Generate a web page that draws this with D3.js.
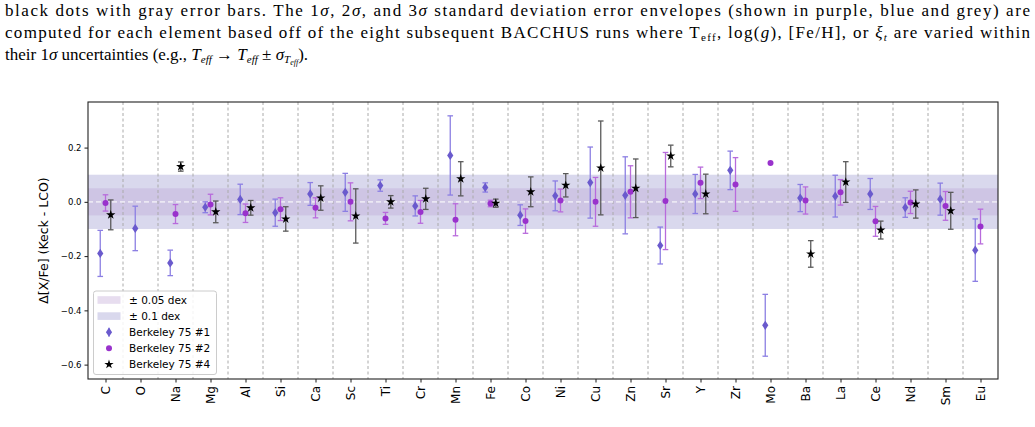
<!DOCTYPE html>
<html>
<head>
<meta charset="utf-8">
<script src="https://cdn.jsdelivr.net/npm/d3@7"></script>
<style>
  body { margin: 0; background: #fff; }
  svg { display: block; }
</style>
</head>
<body>
<svg id="chart" width="1035" height="427"></svg>
<script>
// element order along the x axis
var elements = ["C", "O", "Na", "Mg", "Al", "Si", "Ca", "Sc", "Ti", "Cr", "Mn", "Fe", "Co",
                "Ni", "Cu", "Zn", "Sr", "Y", "Zr", "Mo", "Ba", "La", "Ce", "Nd", "Sm", "Eu"];

// Berkeley 75 #1 (diamonds)
var star1 = [-0.190, -0.098, -0.225, -0.020, 0.009, -0.040, 0.029, 0.035, 0.060, -0.015, 0.171, 0.053, -0.049,
             0.022, 0.071, 0.024, -0.161, 0.029, 0.116, -0.455, 0.014, 0.021, 0.029, -0.021, 0.010, -0.178];
var star1Err = [0.085, 0.082, 0.047, 0.020, 0.056, 0.050, 0.042, 0.070, 0.021, 0.037, 0.146, 0.017, 0.038,
                0.055, 0.131, 0.142, 0.068, 0.072, 0.071, 0.114, 0.050, 0.077, 0.057, 0.036, 0.059, 0.115];

// Berkeley 75 #2 (circles)
var star2 = [-0.004, null, -0.045, -0.010, -0.042, -0.027, -0.022, 0.000, -0.061, -0.037, -0.066, -0.006, -0.071,
             0.005, 0.000, 0.037, 0.003, 0.070, 0.064, 0.143, 0.005, 0.035, -0.072, -0.002, -0.015, -0.091];
var star2Err = [0.030, null, 0.035, 0.038, 0.034, 0.042, 0.037, 0.070, 0.022, 0.042, 0.059, 0.012, 0.045,
                0.042, 0.090, 0.096, 0.179, 0.058, 0.099, null, 0.050, 0.047, 0.055, 0.041, 0.053, 0.064];

// Berkeley 75 #4 (stars)
var star4 = [-0.048, null, 0.130, -0.037, -0.022, -0.063, 0.014, -0.052, 0.000, 0.011, 0.085, -0.005, 0.037,
             0.061, 0.125, 0.050, 0.169, 0.029, null, null, -0.192, 0.073, -0.104, -0.008, -0.033, null];
var star4Err = [0.055, null, 0.017, 0.040, 0.027, 0.045, 0.045, 0.100, 0.023, 0.039, 0.063, 0.015, 0.055,
                0.043, 0.173, 0.108, 0.040, 0.073, null, null, 0.049, 0.075, 0.033, 0.052, 0.068, null];

var yTicks = [-0.6, -0.4, -0.2, 0.0, 0.2];
var bands = [0.1, 0.05];

var svg = d3.select("#chart"),
   margin = {top: 102, right: 37, bottom: 48, left: 88},
   width = +svg.attr("width") - margin.left - margin.right,
   height = +svg.attr("height") - margin.top - margin.bottom;

// caption text above the figure
var cap = svg.append("g")
   .attr("font-family", "'Liberation Serif', serif")
   .attr("font-size", 17)
   .attr("fill", "#000");

var l1 = cap.append("text").attr("x", 5).attr("y", 16)
   .attr("textLength", 1025).attr("lengthAdjust", "spacing");
l1.append("tspan").text("black dots with gray error bars. The 1");
l1.append("tspan").attr("font-style", "italic").text("σ");
l1.append("tspan").text(", 2");
l1.append("tspan").attr("font-style", "italic").text("σ");
l1.append("tspan").text(", and 3");
l1.append("tspan").attr("font-style", "italic").text("σ");
l1.append("tspan").text(" standard deviation error envelopes (shown in purple, blue and grey) are");

var l2 = cap.append("text").attr("x", 5).attr("y", 38)
   .attr("textLength", 1025).attr("lengthAdjust", "spacing");
l2.append("tspan").text("computed for each element based off of the eight subsequent BACCHUS runs where T");
l2.append("tspan").attr("font-size", 11).attr("dy", 3).text("eff");
l2.append("tspan").attr("dy", -3).text(", log(");
l2.append("tspan").attr("font-style", "italic").text("g");
l2.append("tspan").text("), [Fe/H], or ");
l2.append("tspan").attr("font-style", "italic").text("ξ");
l2.append("tspan").attr("font-style", "italic").attr("font-size", 11).attr("dy", 3).text("t");
l2.append("tspan").attr("dy", -3).text(" are varied within");

var l3 = cap.append("text").attr("x", 5).attr("y", 60);
l3.append("tspan").text("their 1");
l3.append("tspan").attr("font-style", "italic").text("σ");
l3.append("tspan").text(" uncertainties (e.g., ");
l3.append("tspan").attr("font-style", "italic").text("T");
l3.append("tspan").attr("font-style", "italic").attr("font-size", 11).attr("dy", 3).text("eff");
l3.append("tspan").attr("dy", -3).text(" → ");
l3.append("tspan").attr("font-style", "italic").text("T");
l3.append("tspan").attr("font-style", "italic").attr("font-size", 11).attr("dy", 3).text("eff");
l3.append("tspan").attr("dy", -3).text(" ± ");
l3.append("tspan").attr("font-style", "italic").text("σ");
l3.append("tspan").attr("font-style", "italic").attr("font-size", 11).attr("dy", 3).text("T");
l3.append("tspan").attr("font-style", "italic").attr("font-size", 8).attr("dy", 2).text("eff");
l3.append("tspan").attr("dy", -5).text(").");

var g = svg.append("g").attr("transform", "translate(" + margin.left + "," + margin.top + ")");

var x = d3.scaleLinear()
      .domain([-0.5, elements.length - 0.5])
      .range([0, width]);

var y = d3.scaleLinear()
      .domain([-0.653, 0.368])
      .range([height, 0]);

// shaded dex bands
var bandColor = {"0.1": "#d9d8ed", "0.05": "rgba(150,100,180,0.16)"};
bands.forEach(function (b) {
   g.append("rect")
    .attr("x", 0)
    .attr("width", width)
    .attr("y", y(b))
    .attr("height", y(-b) - y(b))
    .attr("fill", bandColor[String(b)]);
});

// dashed separators between elements
g.append("g")
 .selectAll("line")
 .data(d3.range(elements.length - 1))
 .enter().append("line")
 .attr("x1", function (d) { return x(d + 0.5); })
 .attr("x2", function (d) { return x(d + 0.5); })
 .attr("y1", 0)
 .attr("y2", height)
 .attr("stroke", "#aaaaaa")
 .attr("stroke-width", 1)
 .attr("stroke-dasharray", "3,2.5");

// zero line
g.append("line")
 .attr("x1", 0).attr("x2", width)
 .attr("y1", y(0)).attr("y2", y(0))
 .attr("stroke", "#ebe8f3")
 .attr("stroke-width", 1.6)
 .attr("stroke-dasharray", "5,3");

var diamond = "M0,-4.6L3.1,0L0,4.6L-3.1,0Z";
var starPath = d3.symbol().type(d3.symbolStar).size(27)();

var series = [
   {vals: star1, errs: star1Err, dx: -0.15, color: "#6a5acd", ecolor: "#8c7fe3", shape: "diamond"},
   {vals: star2, errs: star2Err, dx: 0, color: "#9932cc", ecolor: "#b86bdc", shape: "circle"},
   {vals: star4, errs: star4Err, dx: 0.15, color: "#000000", ecolor: "#5a5a5a", shape: "star"}
];

series.forEach(function (s) {
   var pts = s.vals.map(function (v, i) {
      return {i: i, v: v, e: s.errs[i]};
   }).filter(function (d) { return d.v !== null; });

   var sg = g.append("g");

   var eb = sg.selectAll(".eb")
      .data(pts.filter(function (d) { return d.e; }))
      .enter().append("g")
      .attr("stroke", s.ecolor)
      .attr("stroke-width", 1.3);

   eb.append("line")
     .attr("x1", function (d) { return x(d.i + s.dx); })
     .attr("x2", function (d) { return x(d.i + s.dx); })
     .attr("y1", function (d) { return y(d.v + d.e); })
     .attr("y2", function (d) { return y(d.v - d.e); });

   [1, -1].forEach(function (sign) {
      eb.append("line")
        .attr("x1", function (d) { return x(d.i + s.dx) - 2.8; })
        .attr("x2", function (d) { return x(d.i + s.dx) + 2.8; })
        .attr("y1", function (d) { return y(d.v + sign * d.e); })
        .attr("y2", function (d) { return y(d.v + sign * d.e); });
   });

   var m = sg.selectAll(".pt")
      .data(pts)
      .enter();

   if (s.shape === "circle") {
      m.append("circle")
       .attr("cx", function (d) { return x(d.i + s.dx); })
       .attr("cy", function (d) { return y(d.v); })
       .attr("r", 3)
       .attr("fill", s.color);
   } else {
      m.append("path")
       .attr("d", s.shape === "diamond" ? diamond : starPath)
       .attr("transform", function (d) { return "translate(" + x(d.i + s.dx) + "," + y(d.v) + ")"; })
       .attr("fill", s.color);
   }
});

// axes
var yAxis = g.append("g")
 .call(d3.axisLeft(y).tickValues(yTicks).tickFormat(d3.format(".1f")).tickSize(3.5).tickPadding(3));
yAxis.selectAll("text").attr("font-size", 8.5).attr("font-family", "'DejaVu Sans', sans-serif").attr("fill", "#000");

var xAxis = g.append("g")
 .attr("transform", "translate(0," + height + ")")
 .call(d3.axisBottom(x).tickValues(d3.range(elements.length))
   .tickFormat(function (d) { return elements[d]; }).tickSize(3.5));
xAxis.selectAll("text")
 .attr("font-size", 12)
 .attr("font-family", "'DejaVu Sans', sans-serif")
 .attr("fill", "#000")
 .attr("transform", "rotate(-90)")
 .attr("text-anchor", "end")
 .attr("x", -7)
 .attr("y", 0)
 .attr("dy", "0.35em");

g.selectAll(".domain").remove();
g.selectAll(".tick line").attr("stroke", "#000").attr("stroke-width", 0.9);

// frame
g.append("rect")
 .attr("width", width).attr("height", height)
 .attr("fill", "none")
 .attr("stroke", "#222")
 .attr("stroke-width", 1.1);

// y label
g.append("text")
 .attr("transform", "translate(-40," + (height / 2) + ") rotate(-90)")
 .attr("text-anchor", "middle")
 .attr("font-family", "'DejaVu Sans', sans-serif")
 .attr("font-size", 12.5)
 .text("Δ[X/Fe] (Keck - LCO)");

// legend
var leg = g.append("g").attr("transform", "translate(5.5,189)");
leg.append("rect")
 .attr("width", 123).attr("height", 83.5)
 .attr("rx", 2.5)
 .attr("fill", "rgba(255,255,255,0.85)")
 .attr("stroke", "#cccccc");

var legItems = [
   {label: "± 0.05 dex", kind: "band", fill: "#e7ddef"},
   {label: "± 0.1 dex", kind: "band", fill: "#d9d8ed"},
   {label: "Berkeley 75 #1", kind: "diamond", fill: series[0].color, ecolor: series[0].ecolor},
   {label: "Berkeley 75 #2", kind: "circle", fill: series[1].color},
   {label: "Berkeley 75 #4", kind: "star", fill: series[2].color}
];

legItems.forEach(function (it, k) {
   var row = leg.append("g").attr("transform", "translate(0," + (9 + k * 16.1) + ")");
   if (it.kind === "band") {
      row.append("rect").attr("x", 4).attr("y", -3.8).attr("width", 23).attr("height", 7.6).attr("fill", it.fill);
   } else if (it.kind === "diamond") {
      row.append("line").attr("x1", 15.5).attr("x2", 15.5).attr("y1", -4.5).attr("y2", 4.5)
         .attr("stroke", it.ecolor).attr("stroke-width", 1.3);
      row.append("path").attr("d", diamond).attr("transform", "translate(15.5,0)").attr("fill", it.fill);
   } else if (it.kind === "circle") {
      row.append("circle").attr("cx", 15.5).attr("cy", 0).attr("r", 3).attr("fill", it.fill);
   } else {
      row.append("path").attr("d", starPath).attr("transform", "translate(15.5,0)").attr("fill", it.fill);
   }
   row.append("text")
      .attr("x", 35.5).attr("y", 0).attr("dy", "0.35em")
      .attr("font-family", "'DejaVu Sans', sans-serif")
      .attr("font-size", 10.5)
      .text(it.label);
});
</script>
</body>
</html>
